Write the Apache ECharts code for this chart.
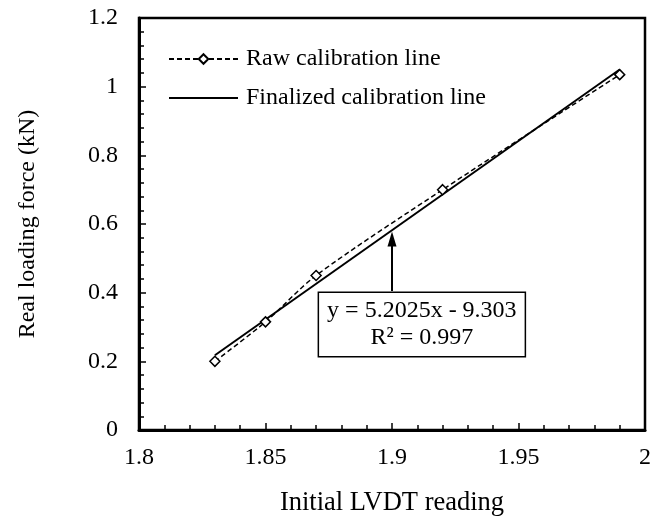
<!DOCTYPE html>
<html>
<head>
<meta charset="utf-8">
<script src="https://cdn.jsdelivr.net/npm/echarts@6/dist/echarts.min.js"></script>
<style>
  html, body { margin: 0; padding: 0; background: #fff; }
  #chart { width: 654px; height: 522px; }
</style>
</head>
<body>
<div id="chart"></div>
<script>
// LVDT calibration: measured points and linear fit
const lvdtReading = [1.83, 1.85, 1.87, 1.92, 1.99];
const loadForce   = [0.20, 0.315, 0.45, 0.70, 1.035];

// Linear fit reported on the chart
const fitSlope = 5.2025;
const fitIntercept = -9.303;
const fitR2 = 0.997;
const fitRange = [1.83, 1.99];

// Axis tick values
const xTicks = [1.8, 1.85, 1.9, 1.95, 2];
const yTicks = [0, 0.2, 0.4, 0.6, 0.8, 1, 1.2];

// Annotation anchor (data coordinates)
const arrowFrom = [1.9, 0.405];
const arrowTo = [1.9, 0.556];
const boxCenter = [1.9118, 0.307];

const FONT = '"Liberation Serif", "Times New Roman", serif';
const FS = 24;

const rawData = lvdtReading.map((x, i) => [x, loadForce[i]]);
const fitData = fitRange.map(x => [x, fitSlope * x + fitIntercept]);

const fmt = v => String(parseFloat(v.toFixed(4)));

const chart = echarts.init(document.getElementById('chart'), null, { renderer: 'canvas' });

chart.setOption({
  animation: false,
  backgroundColor: '#fff',
  textStyle: { fontFamily: FONT, color: '#000' },
  grid: {
    left: 139, top: 18, right: 8, bottom: 91,
    show: true, borderColor: '#000', borderWidth: 2.5, backgroundColor: 'transparent'
  },
  legend: {
    orient: 'vertical',
    left: 163, top: 42,
    itemWidth: 69, itemHeight: 12, itemGap: 15,
    textStyle: { fontFamily: FONT, fontSize: FS, color: '#000', padding: [0, 0, 0, 3] },
    data: [
      { name: 'Raw calibration line' },
      { name: 'Finalized calibration line', itemStyle: { color: 'rgba(0,0,0,0)', borderWidth: 0, opacity: 0 } }
    ]
  },
  xAxis: {
    type: 'value',
    min: xTicks[0], max: xTicks[xTicks.length - 1],
    interval: xTicks[1] - xTicks[0],
    name: 'Initial LVDT reading',
    nameLocation: 'middle', nameGap: 60,
    nameTextStyle: { fontFamily: FONT, fontSize: 26.5, color: '#000' },
    axisLine: { show: true, lineStyle: { color: '#000', width: 3 } },
    axisTick: { show: true, inside: true, length: 7, lineStyle: { color: '#000', width: 1.5 } },
    minorTick: { show: true, splitNumber: 5, length: 5, lineStyle: { color: '#000', width: 1.5 } },
    axisLabel: { fontFamily: FONT, fontSize: FS, color: '#000', margin: 16, formatter: fmt },
    splitLine: { show: false }
  },
  yAxis: {
    type: 'value',
    min: yTicks[0], max: yTicks[yTicks.length - 1],
    interval: yTicks[1] - yTicks[0],
    name: 'Real loading force (kN)',
    nameLocation: 'middle', nameGap: 99,
    nameTextStyle: { fontFamily: FONT, fontSize: FS, color: '#000' },
    axisLine: { show: true, lineStyle: { color: '#000', width: 3 } },
    axisTick: { show: true, inside: true, length: 7, lineStyle: { color: '#000', width: 1.5 } },
    minorTick: { show: true, splitNumber: 5, length: 5, lineStyle: { color: '#000', width: 1.5 } },
    axisLabel: { fontFamily: FONT, fontSize: FS, color: '#000', margin: 21, formatter: fmt },
    splitLine: { show: false }
  },
  series: [
    {
      name: 'Raw calibration line',
      type: 'line',
      data: rawData,
      smooth: 0.3,
      symbol: 'diamond',
      symbolSize: 10,
      showAllSymbol: true,
      lineStyle: { color: '#000', width: 1.5, type: [5, 3] },
      itemStyle: { color: '#fff', borderColor: '#000', borderWidth: 1.5 },
      z: 3
    },
    {
      name: 'Finalized calibration line',
      type: 'line',
      data: fitData,
      symbol: 'none',
      lineStyle: { color: '#000', width: 2 },
      itemStyle: { color: '#000' },
      z: 2,
      markLine: {
        silent: true,
        symbol: ['none', 'triangle'],
        symbolSize: 12,
        lineStyle: { color: '#000', width: 2, type: 'solid' },
        label: { show: false },
        data: [[
          { coord: arrowFrom, symbol: 'none' },
          { coord: arrowTo, symbol: 'triangle', symbolSize: [9, 15] }
        ]]
      },
      markPoint: {
        silent: true,
        symbol: 'rect',
        symbolSize: 1,
        itemStyle: { color: 'transparent' },
        label: {
          show: true,
          position: 'inside',
          fontFamily: FONT, fontSize: FS, color: '#000',
          lineHeight: 27, align: 'center',
          backgroundColor: '#fff', borderColor: '#000', borderWidth: 1.5,
          padding: [5, 8, 4, 8],
          formatter: 'y = ' + fitSlope + 'x - ' + Math.abs(fitIntercept) + '\nR² = ' + fitR2
        },
        data: [{ coord: boxCenter }]
      }
    }
  ]
});
</script>
</body>
</html>
